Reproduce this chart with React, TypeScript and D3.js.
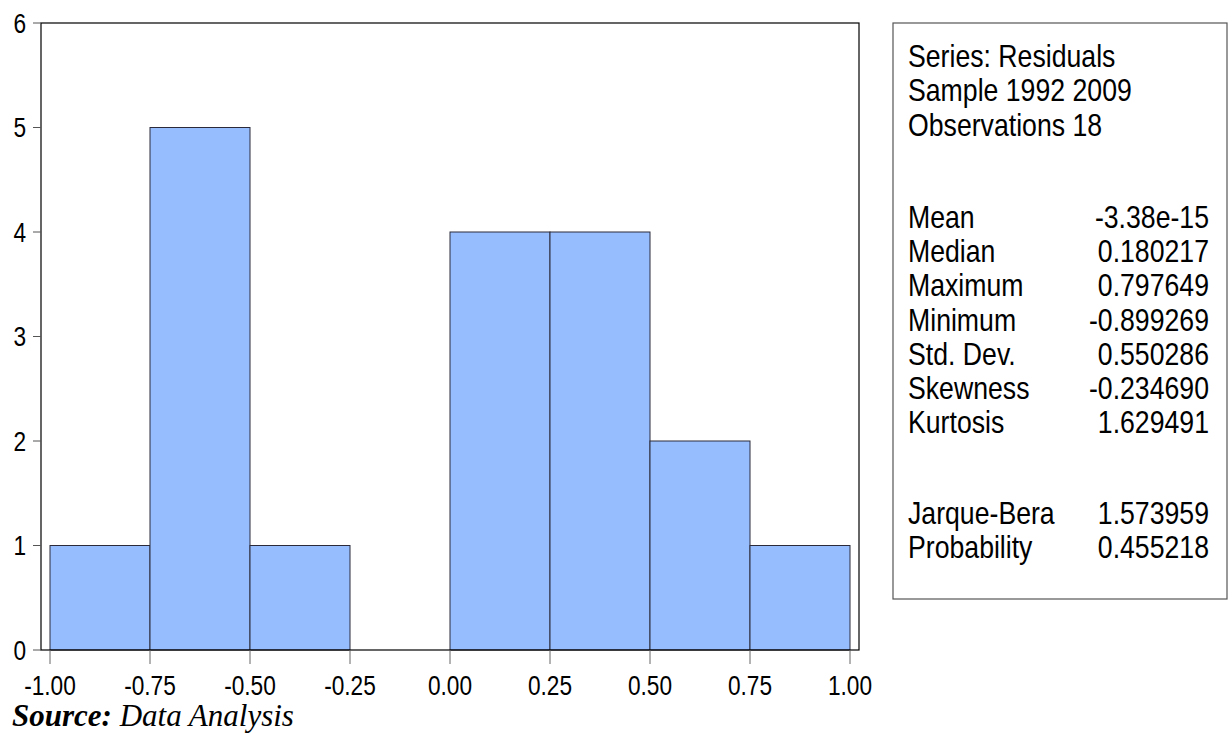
import React from "react";
import * as d3 from "d3";

const binStarts = [-1.0, -0.75, -0.5, -0.25, 0.0, 0.25, 0.5, 0.75];
const binWidth = 0.25;
const counts = [1, 5, 1, 0, 4, 4, 2, 1];
const xTicks = [-1.0, -0.75, -0.5, -0.25, 0.0, 0.25, 0.5, 0.75, 1.0];
const yTicks = [0, 1, 2, 3, 4, 5, 6];
const headerLines = ["Series: Residuals", "Sample 1992 2009", "Observations 18"];
const statLabels = ["Mean", "Median", "Maximum", "Minimum", "Std. Dev.", "Skewness", "Kurtosis"];
const statValues = ["-3.38e-15", "0.180217", "0.797649", "-0.899269", "0.550286", "-0.234690", "1.629491"];
const testLabels = ["Jarque-Bera", "Probability"];
const testValues = ["1.573959", "0.455218"];

const FONT = "'Liberation Sans', Arial, sans-serif";

function NText({ x, y, sx, size, anchor, dy, children }: any) {
  return (
    <text
      transform={`translate(${x},${y}) scale(${sx},1)`}
      dy={dy}
      textAnchor={anchor || "start"}
      fontFamily={FONT}
      fontSize={size}
      fill="#000"
    >
      {children}
    </text>
  );
}

export default function App() {
  const W = 1232, H = 733;
  const frame = { l: 41, r: 859, t: 23, b: 650 };
  const x = d3.scaleLinear().domain([-1, 1]).range([50, 850]);
  const y = d3.scaleLinear().domain([0, 6]).range([frame.b, frame.t]);
  const fmt = (v: number) => d3.format(".2f")(v).replace("\u2212", "-");

  const box = { l: 893, r: 1227, t: 23, b: 599 };
  const textX = 908;
  const valX = 1209;
  const headerY = [67, 101, 136];
  const statY = statLabels.map((_, i) => 228 + i * 34.2);
  const testY = [524, 558];
  const LS = 31, LSX = 0.86;

  return (
    <svg width={W} height={H} style={{ position: "absolute", left: 0, top: 0, background: "#fff" }}>
      <rect x={0} y={0} width={W} height={H} fill="#fff" />
      {binStarts.map((s, i) =>
        counts[i] > 0 ? (
          <rect
            key={i}
            x={x(s)}
            y={y(counts[i])}
            width={x(s + binWidth) - x(s)}
            height={y(0) - y(counts[i])}
            fill="#96BEFF"
            stroke="#2a2a3a"
            strokeWidth={1}
          />
        ) : null
      )}
      <rect x={frame.l} y={frame.t} width={frame.r - frame.l} height={frame.b - frame.t} fill="none" stroke="#000" strokeWidth={1.2} />
      {yTicks.map((t) => (
        <g key={t}>
          <line x1={33} x2={frame.l} y1={y(t)} y2={y(t)} stroke="#555" strokeWidth={1} />
          <NText x={26} y={y(t)} dy="0.36em" sx={0.84} size={27} anchor="end">
            {t}
          </NText>
        </g>
      ))}
      {xTicks.map((t) => (
        <g key={t}>
          <line x1={x(t)} x2={x(t)} y1={frame.b} y2={frame.b + 14} stroke="#666" strokeWidth={1} />
          <NText x={x(t)} y={695} sx={0.84} size={27} anchor="middle">
            {fmt(t)}
          </NText>
        </g>
      ))}
      <text x={12} y={726} fontFamily="'Liberation Serif', 'Times New Roman', serif" fontSize={31} fontStyle="italic" fill="#000">
        <tspan fontWeight="bold">Source:</tspan>
        <tspan> Data Analysis</tspan>
      </text>
      <rect x={box.l} y={box.t} width={box.r - box.l} height={box.b - box.t} fill="#fff" stroke="#555" strokeWidth={1.2} />
      {headerLines.map((l, i) => (
        <NText key={l} x={textX} y={headerY[i]} sx={LSX} size={LS}>
          {l}
        </NText>
      ))}
      {statLabels.map((l, i) => (
        <g key={l}>
          <NText x={textX} y={statY[i]} sx={LSX} size={LS}>
            {l}
          </NText>
          <NText x={valX} y={statY[i]} sx={LSX} size={LS} anchor="end">
            {statValues[i]}
          </NText>
        </g>
      ))}
      {testLabels.map((l, i) => (
        <g key={l}>
          <NText x={textX} y={testY[i]} sx={LSX} size={LS}>
            {l}
          </NText>
          <NText x={valX} y={testY[i]} sx={LSX} size={LS} anchor="end">
            {testValues[i]}
          </NText>
        </g>
      ))}
    </svg>
  );
}
